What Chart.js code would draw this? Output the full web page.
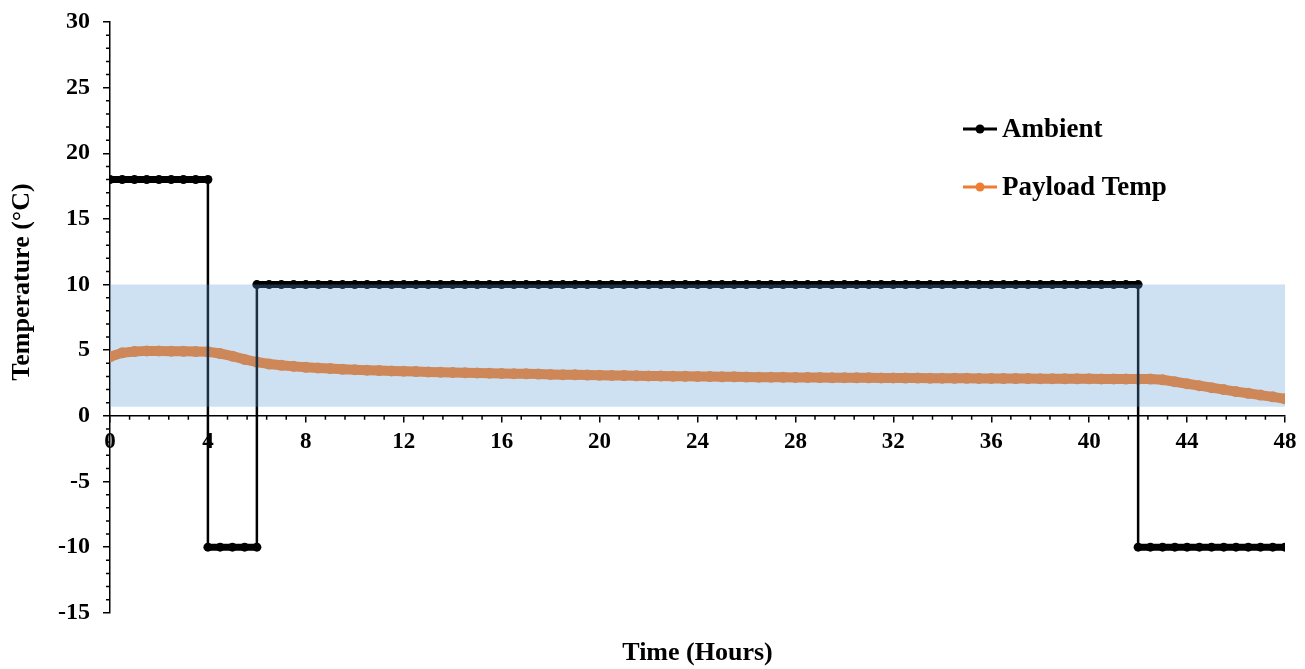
<!DOCTYPE html>
<html>
<head>
<meta charset="utf-8">
<script src="https://cdn.jsdelivr.net/npm/chart.js@4.4.1/dist/chart.umd.min.js"></script>
<style>
  html, body { margin: 0; padding: 0; background: #fff; }
  #wrap { width: 1305px; height: 669px; }
</style>
</head>
<body>
<div id="wrap"><canvas id="tempChart" width="1305" height="669"></canvas></div>
<script>
// time axis, half-hour readings
const hours = [
  0, 0.5, 1, 1.5, 2, 2.5, 3, 3.5,
  4, 4.5, 5, 5.5, 6, 6.5, 7, 7.5,
  8, 8.5, 9, 9.5, 10, 10.5, 11, 11.5,
  12, 12.5, 13, 13.5, 14, 14.5, 15, 15.5,
  16, 16.5, 17, 17.5, 18, 18.5, 19, 19.5,
  20, 20.5, 21, 21.5, 22, 22.5, 23, 23.5,
  24, 24.5, 25, 25.5, 26, 26.5, 27, 27.5,
  28, 28.5, 29, 29.5, 30, 30.5, 31, 31.5,
  32, 32.5, 33, 33.5, 34, 34.5, 35, 35.5,
  36, 36.5, 37, 37.5, 38, 38.5, 39, 39.5,
  40, 40.5, 41, 41.5, 42, 42.5, 43, 43.5,
  44, 44.5, 45, 45.5, 46, 46.5, 47, 47.5,
  48
]

// ambient set-point profile
const ambient = [
  18, 18, 18, 18, 18, 18, 18, 18,
  18, -10, -10, -10, -10, 10, 10, 10,
  10, 10, 10, 10, 10, 10, 10, 10,
  10, 10, 10, 10, 10, 10, 10, 10,
  10, 10, 10, 10, 10, 10, 10, 10,
  10, 10, 10, 10, 10, 10, 10, 10,
  10, 10, 10, 10, 10, 10, 10, 10,
  10, 10, 10, 10, 10, 10, 10, 10,
  10, 10, 10, 10, 10, 10, 10, 10,
  10, 10, 10, 10, 10, 10, 10, 10,
  10, 10, 10, 10, 10, -10, -10, -10,
  -10, -10, -10, -10, -10, -10, -10, -10,
  -10
]
// second reading at the moment the ambient switches
const jumpHours = [4, 6, 42]
const jumpTemps = [-10, 10, -10]

// payload temperature
const payload = [
  4.5, 4.8, 4.9, 4.95, 4.95, 4.93, 4.92, 4.9,
  4.88, 4.75, 4.55, 4.3, 4.1, 3.95, 3.85, 3.77,
  3.7, 3.65, 3.6, 3.55, 3.52, 3.48, 3.45, 3.42,
  3.4, 3.37, 3.35, 3.33, 3.31, 3.29, 3.27, 3.25,
  3.23, 3.21, 3.2, 3.18, 3.16, 3.14, 3.13, 3.11,
  3.1, 3.08, 3.07, 3.05, 3.04, 3.03, 3.02, 3.01,
  3.0, 2.99, 2.98, 2.97, 2.96, 2.95, 2.95, 2.94,
  2.93, 2.93, 2.92, 2.91, 2.91, 2.9, 2.9, 2.89,
  2.89, 2.88, 2.88, 2.87, 2.87, 2.86, 2.86, 2.85,
  2.85, 2.84, 2.84, 2.84, 2.83, 2.83, 2.82, 2.82,
  2.82, 2.81, 2.81, 2.8, 2.8, 2.8, 2.75, 2.6,
  2.45, 2.3, 2.15, 2.0, 1.85, 1.72, 1.58, 1.45,
  1.3
]

// acceptable range band
const bandHours = [0, 48]
const bandTop = [10, 10]
const bandBottom = 0.7

const FONT = '"Liberation Serif", "Times New Roman", serif'

// put the switch readings right after the normal reading of the same hour
const ambientPoints = hours
  .map((h, i) => ({ x: h, y: ambient[i] }))
  .concat(jumpHours.map((h, i) => ({ x: h, y: jumpTemps[i] })))
  .sort((a, b) => a.x - b.x)

const extras = {
  id: "extras",
  afterDraw(chart) {
    const { ctx, chartArea, scales } = chart
    const x = scales.x
    const y = scales.y
    ctx.save()

    // minor ticks
    ctx.strokeStyle = "#000"
    ctx.lineWidth = 1.5
    ctx.beginPath()
    for (let v = y.min; v <= y.max; v++) {
      if (v % 5 === 0) continue
      const py = y.getPixelForValue(v)
      ctx.moveTo(chartArea.left - 4, py)
      ctx.lineTo(chartArea.left, py)
    }
    const y0 = y.getPixelForValue(0)
    for (let k = 1; k < 60; k++) {
      if (k % 5 === 0) continue
      const px = x.getPixelForValue(k * 0.8)
      ctx.moveTo(px, y0)
      ctx.lineTo(px, y0 + 4)
    }
    ctx.stroke()

    // y title
    ctx.fillStyle = "#000"
    ctx.font = "bold 26px " + FONT
    ctx.textAlign = "center"
    ctx.textBaseline = "middle"
    ctx.save()
    ctx.translate(22, 282)
    ctx.rotate(-Math.PI / 2)
    ctx.fillText("Temperature (°C)", 0, 0)
    ctx.restore()

    // legend
    const rows = chart.data.datasets.filter((d) => !d.hideInLegend)
    rows.forEach((d, i) => {
      const ly = 129 + i * 58
      ctx.strokeStyle = d.legendColor
      ctx.lineWidth = 3
      ctx.beginPath()
      ctx.moveTo(963, ly)
      ctx.lineTo(997, ly)
      ctx.stroke()
      ctx.fillStyle = d.legendColor
      ctx.beginPath()
      ctx.arc(980, ly, 4.5, 0, Math.PI * 2)
      ctx.fill()
      ctx.fillStyle = "#000"
      ctx.textAlign = "left"
      ctx.font = "bold 27px " + FONT
      ctx.fillText(d.label, 1002, ly + 1)
    })
    ctx.restore()
  },
}

new Chart(document.getElementById("tempChart"), {
  type: "line",
  data: {
    datasets: [
      {
        // drawn last, so it tints everything under it
        label: "Range",
        hideInLegend: true,
        data: bandHours.map((h, i) => ({ x: h, y: bandTop[i] })),
        borderWidth: 0,
        pointRadius: 0,
        backgroundColor: "rgba(91, 155, 213, 0.3)",
        fill: { value: bandBottom },
      },
      {
        label: "Ambient",
        legendColor: "#000",
        data: ambientPoints,
        borderColor: "#000",
        backgroundColor: "#000",
        borderWidth: 2,
        pointRadius: 4.5,
        pointBorderWidth: 0,
        pointBackgroundColor: "#000",
        segment: {
          borderWidth: (c) => (c.p0.parsed.y === c.p1.parsed.y ? 7 : 2.5),
        },
        fill: false,
      },
      {
        label: "Payload Temp",
        legendColor: "#ED7D31",
        data: hours.map((h, i) => ({ x: h, y: payload[i] })),
        borderColor: "#FF7E25",
        backgroundColor: "#FF7E25",
        borderWidth: 10,
        pointRadius: 5.5,
        pointBorderWidth: 0,
        pointBackgroundColor: "#FF7E25",
        fill: false,
      },
    ],
  },
  options: {
    responsive: false,
    animation: false,
    devicePixelRatio: 1,
    layout: { padding: { top: 22, right: 20, left: 0, bottom: 0 } },
    scales: {
      x: {
        type: "linear",
        position: { y: 0 },
        min: 0,
        max: 48,
        ticks: {
          stepSize: 4,
          padding: 6,
          color: "#000",
          font: { family: FONT, size: 23, weight: "bold" },
        },
        grid: { drawOnChartArea: false, tickLength: 6, color: "#000", lineWidth: 1.5 },
        border: { color: "#000", width: 1.5 },
      },
      y: {
        min: -15,
        max: 30,
        ticks: {
          stepSize: 5,
          padding: 13,
          color: "#000",
          font: { family: FONT, size: 24, weight: "bold" },
        },
        grid: { drawOnChartArea: false, tickLength: 7, color: "#000", lineWidth: 1.5 },
        border: { color: "#000", width: 1.5 },
        afterFit(scale) {
          scale.width = 110
          scale.paddingTop = 0
          scale.paddingBottom = 0
        },
      },
    },
    plugins: {
      legend: { display: false },
      tooltip: { enabled: false },
      title: {
        display: true,
        position: "bottom",
        fullSize: false,
        text: "Time (Hours)",
        color: "#000",
        font: { family: FONT, size: 26, weight: "bold" },
        padding: { top: 25, bottom: 0 },
      },
    },
  },
  plugins: [extras],
})
</script>
</body>
</html>
